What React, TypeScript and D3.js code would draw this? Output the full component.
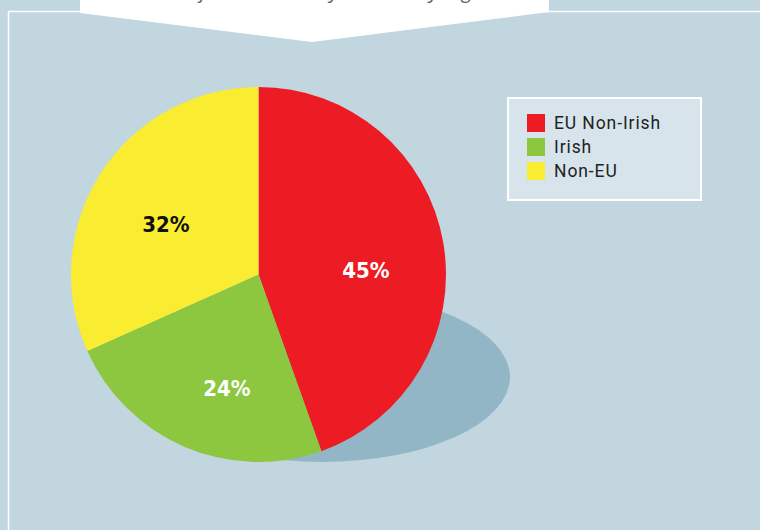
import React from "react";
import * as d3 from "d3";

const categories = ["EU Non-Irish", "Irish", "Non-EU"];
const values = [45, 24, 32];
const labels = ["45%", "24%", "32%"];
const colors = ["#ed1c24", "#8dc63f", "#f9ec31"];
const labelColors = ["#ffffff", "#ffffff", "#111111"];
const titleText = "Breakdown of all students by nationality region";

const W = 760;
const H = 530;

export default function App() {
  const cx = 258.5;
  const cy = 274.5;
  const r = 187.5;
  const pie = d3.pie<number>().sort(null).value((d) => d);
  const arcs = pie(values);
  const arc = d3.arc<d3.PieArcDatum<number>>().innerRadius(0).outerRadius(r);
  const labelArc = d3.arc<d3.PieArcDatum<number>>().innerRadius(108).outerRadius(108);
  const nudge = [
    [1, 14],
    [11, 15],
    [-2, 9],
  ];
  const font = "'DejaVu Sans Condensed', 'DejaVu Sans', sans-serif";

  return (
    <svg
      width={W}
      height={H}
      style={{ position: "absolute", left: 0, top: 0, display: "block" }}
    >
      <rect x={0} y={0} width={W} height={H} fill="#c2d6e0" />
      {/* frame lines */}
      <line x1={8.5} y1={11} x2={8.5} y2={H} stroke="#ffffff" strokeWidth={1.5} />
      <line x1={8} y1={11.5} x2={W} y2={11.5} stroke="#ffffff" strokeWidth={1.5} />
      {/* banner */}
      <polygon points="80,0 549,0 549,12 312,42 80,13" fill="#ffffff" />
      <text
        x={84}
        y={-2}
        fontFamily="'Open Sans', sans-serif"
        fontStyle="italic"
        fontSize={20}
        fill="#666666"
      >
        {titleText}
      </text>
      {/* shadow */}
      <ellipse cx={322} cy={377} rx={188} ry={85} fill="#93b6c6" />
      {/* pie */}
      <g transform={`translate(${cx},${cy})`}>
        {arcs.map((a, i) => (
          <path key={i} d={arc(a) || ""} fill={colors[i]} />
        ))}
        {arcs.map((a, i) => {
          const [x, y] = labelArc.centroid(a);
          return (
            <text
              key={"l" + i}
              x={x + nudge[i][0]}
              y={y + nudge[i][1]}
              textAnchor="middle"
              dominantBaseline="central"
              fontFamily={font}
              fontWeight="bold"
              fontSize={22}
              fill={labelColors[i]}
            >
              {labels[i]}
            </text>
          );
        })}
      </g>
      {/* legend */}
      <rect x={508} y={98} width={193} height={102} fill="#d7e4eb" stroke="#ffffff" strokeWidth={2} />
      {categories.map((c, i) => (
        <g key={c} transform={`translate(527, ${114 + i * 24})`}>
          <rect x={0} y={0} width={18} height={18} fill={colors[i]} />
          <text
            x={27}
            y={9}
            dominantBaseline="central"
            fontFamily="Roboto, sans-serif"
            fontSize={17.5}
            letterSpacing={0.9}
            fill="#222222"
          >
            {c}
          </text>
        </g>
      ))}
    </svg>
  );
}
